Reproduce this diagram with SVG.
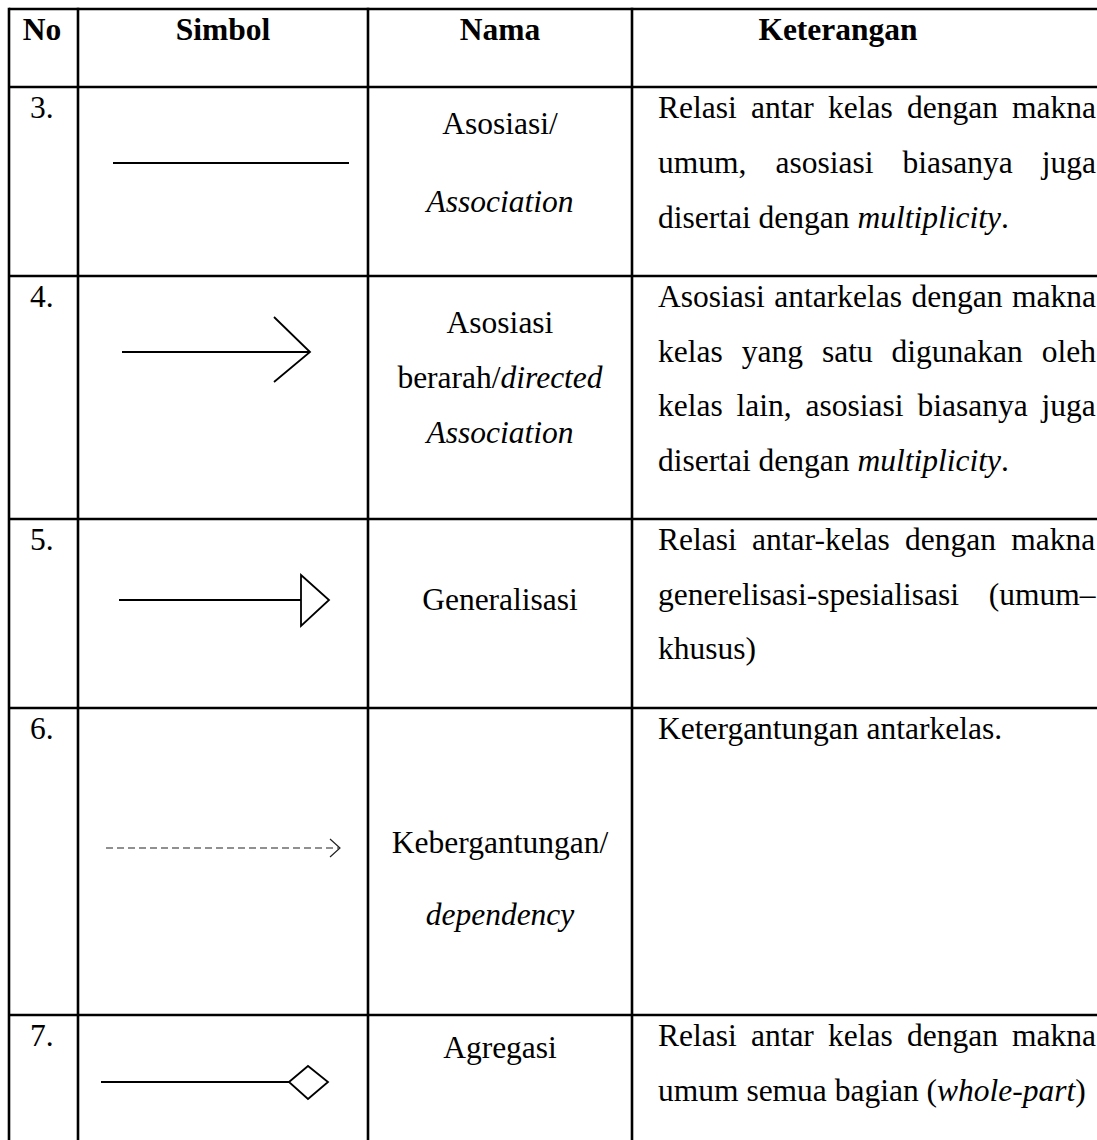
<svg xmlns="http://www.w3.org/2000/svg" width="1097" height="1140" viewBox="0 0 1097 1140">
<style>
  text { font-family: "Liberation Serif", "Times New Roman", serif; font-size: 31.5px; fill: #000; }
  .h { font-weight: bold; text-anchor: middle; }
  .c { text-anchor: middle; }
  .i { font-style: italic; }
  .grid line { stroke: #000; stroke-width: 2.6; }
  .sym { stroke: #000; stroke-width: 1.8; fill: none; }
  .dash { stroke: #222; stroke-width: 1.2; fill: none; stroke-dasharray: 7 4; }
</style>
<rect width="1097" height="1140" fill="#fff"/>
<g id="grid" class="grid">
  <line x1="9" y1="9" x2="1097" y2="9"/>
  <line x1="9" y1="87" x2="1097" y2="87"/>
  <line x1="9" y1="276" x2="1097" y2="276"/>
  <line x1="9" y1="519" x2="1097" y2="519"/>
  <line x1="9" y1="708" x2="1097" y2="708"/>
  <line x1="9" y1="1015" x2="1097" y2="1015"/>
  <line x1="9" y1="7.7" x2="9" y2="1140"/>
  <line x1="78" y1="7.7" x2="78" y2="1140"/>
  <line x1="368" y1="7.7" x2="368" y2="1140"/>
  <line x1="632" y1="7.7" x2="632" y2="1140"/>
</g>
<g id="header">
  <text class="h" x="42" y="40">No</text>
  <text class="h" x="223" y="40">Simbol</text>
  <text class="h" x="500" y="40">Nama</text>
  <text class="h" x="838" y="40">Keterangan</text>
</g>
<g id="connectors">
  <line class="sym" x1="113" y1="163" x2="349" y2="163"/>
  <line class="sym" x1="122" y1="352" x2="310" y2="352"/>
  <polyline class="sym" points="274,317 310,352 274,382"/>
  <line class="sym" x1="119" y1="600" x2="301" y2="600"/>
  <polygon class="sym" points="301,575 329,600 301,626"/>
  <line class="dash" x1="106" y1="848" x2="339" y2="848"/>
  <polyline class="sym" style="stroke-width:1.2;stroke:#222" points="330,839 340,848 330,857"/>
  <line class="sym" x1="101" y1="1082" x2="289" y2="1082"/>
  <polygon class="sym" points="289,1082 308,1066 328,1082 308,1099"/>
</g>
<g id="row3">
  <text x="30" y="118">3.</text>
  <text class="c" x="500" y="134">Asosiasi/</text>
  <text class="c i" x="500" y="212">Association</text>
  <text x="658" y="118" word-spacing="6.3">Relasi antar kelas dengan makna</text>
  <text x="658" y="173" word-spacing="21.2">umum, asosiasi biasanya juga</text>
  <text x="658" y="228">disertai dengan <tspan class="i">multiplicity</tspan>.</text>
</g>
<g id="row4">
  <text x="30" y="307">4.</text>
  <text class="c" x="500" y="333">Asosiasi</text>
  <text class="c" x="500" y="388">berarah/<tspan class="i">directed</tspan></text>
  <text class="c i" x="500" y="443">Association</text>
  <text x="658" y="307" word-spacing="1.7">Asosiasi antarkelas dengan makna</text>
  <text x="658" y="361.5" word-spacing="11.1">kelas yang satu digunakan oleh</text>
  <text x="658" y="416" word-spacing="6">kelas lain, asosiasi biasanya juga</text>
  <text x="658" y="470.5">disertai dengan <tspan class="i">multiplicity</tspan>.</text>
</g>
<g id="row5">
  <text x="30" y="550">5.</text>
  <text class="c" x="500" y="610">Generalisasi</text>
  <text x="658" y="550" word-spacing="7.5">Relasi antar-kelas dengan makna</text>
  <text x="658" y="604.5" word-spacing="22">generelisasi-spesialisasi (umum–</text>
  <text x="658" y="659">khusus)</text>
</g>
<g id="row6">
  <text x="30" y="739">6.</text>
  <text class="c" x="500" y="853">Kebergantungan/</text>
  <text class="c i" x="500" y="925">dependency</text>
  <text x="658" y="739">Ketergantungan antarkelas.</text>
</g>
<g id="row7">
  <text x="30" y="1046">7.</text>
  <text class="c" x="500" y="1058">Agregasi</text>
  <text x="658" y="1046" word-spacing="6.3">Relasi antar kelas dengan makna</text>
  <text x="658" y="1100.5">umum semua bagian (<tspan class="i">whole-part</tspan>)</text>
</g>
</svg>
